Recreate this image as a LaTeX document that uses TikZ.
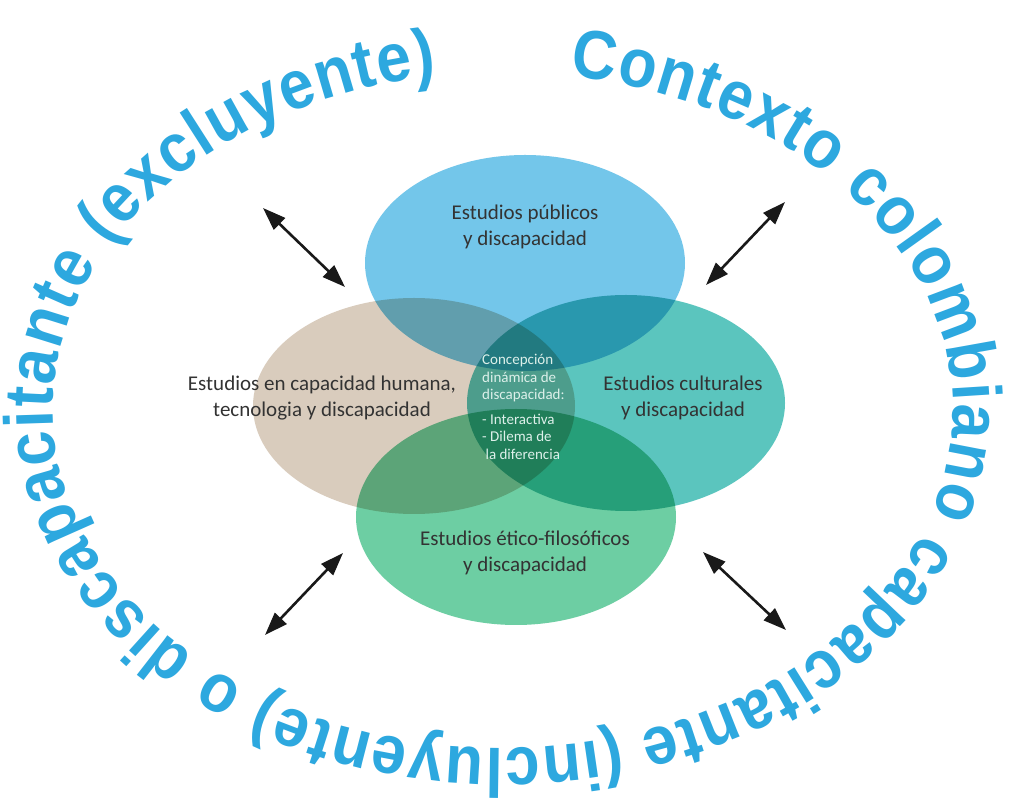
\documentclass[tikz,border=0pt]{standalone}
\usepackage{fontspec}
\setmainfont{Carlito}
\newfontfamily\outerfont{Liberation Sans}[FakeStretch=0.9]
\usetikzlibrary{arrows.meta,decorations.text}
\definecolor{cblue}{HTML}{73C6EA}
\definecolor{cbeige}{HTML}{D9CCBD}
\definecolor{cteal}{HTML}{5BC5BE}
\definecolor{cgreen}{HTML}{6DCEA3}
\definecolor{outerblue}{HTML}{2DA8DF}
\definecolor{labelgray}{HTML}{333333}
\definecolor{centertext}{HTML}{DDF0EA}
\tikzset{
  label/.style={align=center, text=labelgray, font=\fontsize{21}{26}\selectfont, inner sep=0pt},
  centerlabel/.style={align=left, text=centertext, font=\fontsize{15}{17.5}\selectfont, inner sep=0pt},
  dblarrow/.style={line width=2.6pt, black!90, {Triangle[length=23pt,width=16pt]}-{Triangle[length=23pt,width=16pt]}}
}
\begin{document}
\begin{tikzpicture}[x=1pt,y=1pt]
\useasboundingbox (0,0) rectangle (1009,806);
\fill[white] (0,0) rectangle (1009,806);
% ellipses
\begin{scope}[blend group=multiply]
  \fill[cblue]  (525,543) ellipse [x radius=160pt, y radius=108pt];
  \fill[cbeige] (414,400) ellipse [x radius=161pt, y radius=108pt];
  \fill[cteal]  (626,403) ellipse [x radius=159pt, y radius=108pt];
  \fill[cgreen] (516,289) ellipse [x radius=160pt, y radius=108pt];
\end{scope}
% labels
\node[label] (pub) at (525,579) {Estudios públicos\\y discapacidad};
\node[label] (cap) at (322,408) {Estudios en capacidad humana,\\tecnologia y discapacidad};
\node[label] (cul) at (683,408) {Estudios culturales\\y discapacidad};
\node[label] (eti) at (525,253) {Estudios ético-filosóficos\\y discapacidad};
\node[centerlabel, anchor=north west] (con) at (482,452) {Concepción\\dinámica de\\discapacidad:\\[7pt]- Interactiva\\- Dilema de\\\ la diferencia};
% arrows
\coordinate (tlA) at (263,598); \coordinate (tlB) at (345,519);
\coordinate (trA) at (785,604); \coordinate (trB) at (706,521);
\coordinate (blA) at (343,253); \coordinate (blB) at (265,171);
\coordinate (brA) at (703,254); \coordinate (brB) at (786,176);
\draw[dblarrow] (tlA) -- (tlB);
\draw[dblarrow] (trA) -- (trB);
\draw[dblarrow] (blA) -- (blB);
\draw[dblarrow] (brA) -- (brB);
% outer text
\coordinate (oc) at (503,396);
\path[decorate, decoration={text along path, text align={fit to path},
  text={|\outerfont\bfseries\fontsize{69}{69}\selectfont\color{outerblue}|Contexto colombiano capacitante (incluyente) o discapacitante (excluyente)}}]
  (oc) ++(81.5:450pt and 338pt) arc[start angle=81.5, end angle=-261.5, x radius=450pt, y radius=338pt];
\end{tikzpicture}
\end{document}
